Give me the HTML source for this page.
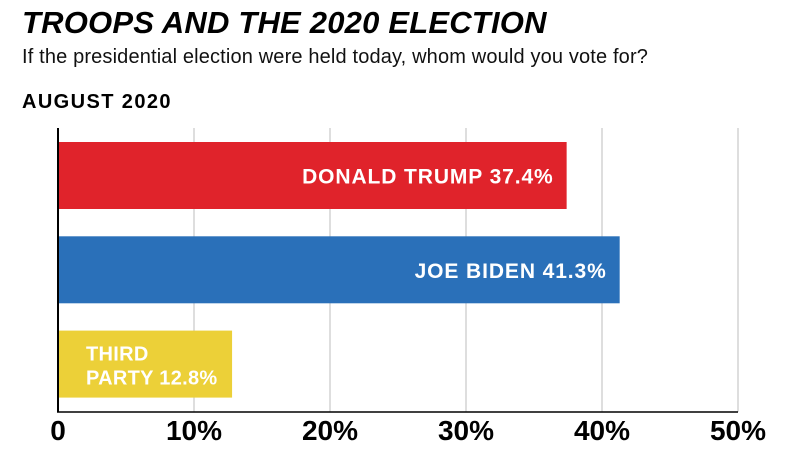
<!DOCTYPE html>
<html><head><meta charset="utf-8"><style>
body{margin:0;width:800px;height:450px;background:#fff;overflow:hidden;font-family:"Liberation Sans",sans-serif}
</style></head><body>
<svg width="800" height="450">
<text x="22" y="33" font-size="31" font-weight="bold" font-style="italic" fill="#000" letter-spacing="0.2">TROOPS AND THE 2020 ELECTION</text>
<text x="22" y="63" font-size="20" fill="#111" letter-spacing="0.15">If the presidential election were held today, whom would you vote for?</text>
<text x="22" y="108" font-size="20" font-weight="bold" fill="#000" letter-spacing="1.4">AUGUST 2020</text>
<g id="grid"></g><g id="bars"></g><g id="ticks"></g>
<line x1="58" y1="128" x2="58" y2="412" stroke="#000" stroke-width="2"/>
<line x1="57" y1="412" x2="738" y2="412" stroke="#000" stroke-width="1.5"/>
</svg>
<script>
const categories=["DONALD TRUMP","JOE BIDEN","THIRD PARTY"];
const values=[37.4,41.3,12.8];
const colors=["#e0232b","#2a70b9","#ecd038"];
const tickValues=[0,10,20,30,40,50];
const tickLabels=["0","10%","20%","30%","40%","50%"];
const ns="http://www.w3.org/2000/svg";
const x=v=>58+v*13.6;
const y=i=>142+i*94.3;
const bh=67;
function mk(t,a,p){const e=document.createElementNS(ns,t);for(const k in a)e.setAttribute(k,a[k]);p.appendChild(e);return e;}
const G=document.getElementById('grid'),B=document.getElementById('bars'),T=document.getElementById('ticks');
tickValues.forEach((v,i)=>{
 if(v>0){const l=mk('line',{x1:x(v),x2:x(v),y1:128,y2:412,stroke:'#c8c8c8','stroke-width':1.2},G);
 
 }
 const t=mk('text',{x:x(v),y:440,'text-anchor':'middle','font-size':28,'font-weight':'bold',fill:'#000'},T);
 t.textContent=tickLabels[i];
 
 
});
values.forEach((v,i)=>{
 const r=mk('rect',{x:59,y:y(i),width:x(v)-59,height:bh,fill:colors[i]},B);
 
 
 const lab=categories[i]+' '+v.toFixed(1)+'%';
 const st={'font-size':21,'font-weight':'bold',fill:'#fff','letter-spacing':0.9};
 if(i<2){
  const t=mk('text',Object.assign({x:x(v)-13,y:y(i)+bh/2+8,'text-anchor':'end'},st),B);
  t.textContent=lab;
  
  
 }else{
  const st2=Object.assign({},st,{'font-size':20,'letter-spacing':0.3});
  const w=categories[i].split(' ');
  const t1=mk('text',Object.assign({x:86,y:y(i)+30},st2),B);
  t1.textContent=w[0];
  
  
  const t2=mk('text',Object.assign({x:86,y:y(i)+54},st2),B);
  t2.textContent=w[1]+' '+v.toFixed(1)+'%';
  
  
 }
});
</script>
</body></html>
